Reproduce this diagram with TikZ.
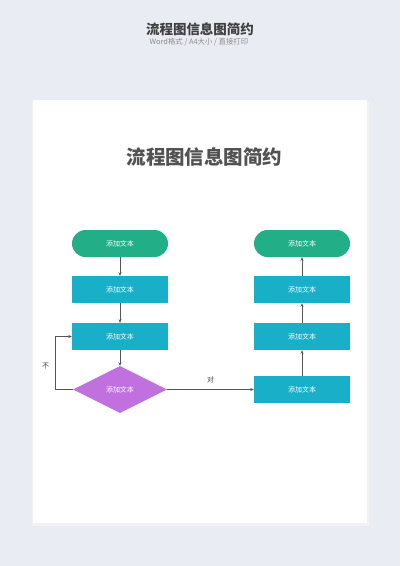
\documentclass[tikz,border=0pt]{standalone}
\usepackage{fontspec}
\setmainfont{Noto Sans CJK SC}
\usetikzlibrary{shapes.geometric,arrows.meta}
\definecolor{pagebg}{HTML}{E9ECF3}
\definecolor{termgreen}{HTML}{22AE87}
\definecolor{stepblue}{HTML}{19AFC9}
\definecolor{askpurple}{HTML}{C171DF}
\definecolor{linegray}{HTML}{555555}
\begin{document}
\begin{tikzpicture}[x=1pt, y=-1pt,
  txt/.style={text=white, font=\fontsize{7}{8}\selectfont, inner sep=0pt},
  term/.style={txt, fill=termgreen, rounded corners=13.5pt, minimum width=96pt, minimum height=27pt},
  stepbox/.style={txt, fill=stepblue, minimum width=96pt, minimum height=27pt},
  ask/.style={txt, diamond, fill=askpurple, minimum width=94pt, minimum height=47pt},
  flow/.style={draw=linegray, line width=0.6pt, -{Stealth[length=3.5pt, width=3pt]}},
  tag/.style={text=linegray!80!black, font=\fontsize{7}{8}\selectfont}]
  \useasboundingbox (0,0) rectangle (400,566);
  \fill[pagebg] (0,0) rectangle (400,566);
  % header
  \node[text=black!75, font=\fontsize{13.5}{15}\bfseries] (head) at (200,29.5) {流程图信息图简约};
  \node[text=black!45, font=\fontsize{7.4}{8}\selectfont] (sub) at (199,42.5) {Word格式 / A4大小 / 直接打印};
  % card
  \fill[black!5] (31.5,101.5) rectangle (368.5,525.5);
  \fill[white] (32.5,100) rectangle (367,523);
  \node[text=black!68, font=\fontsize{19.5}{22}\bfseries] (title) at (204.5,157) {流程图信息图简约};
  % left column
  \node[term] (start) at (120,243.5) {添加文本};
  \node[stepbox] (l2) at (120,289.5) {添加文本};
  \node[stepbox] (l3) at (120,336.5) {添加文本};
  \node[ask] (dec) at (120,389.5) {添加文本};
  % right column
  \node[stepbox] (r4) at (302,389.5) {添加文本};
  \node[stepbox] (r3) at (302,336.5) {添加文本};
  \node[stepbox] (r2) at (302,289.5) {添加文本};
  \node[term] (stop) at (302,243.5) {添加文本};
  % connectors
  \draw[flow] (start) -- (l2);
  \draw[flow] (l2) -- (l3);
  \draw[flow] (l3) -- (dec);
  \draw[flow] (dec.west) -- ++(-18,0) |- node[tag, pos=0.22, left=2pt] {不} (l3.west);
  \draw[flow] (dec.east) -- node[tag, above=3pt] {对} (r4.west);
  \draw[flow] (r4) -- (r3);
  \draw[flow] (r3) -- (r2);
  \draw[flow] (r2) -- (stop);
\end{tikzpicture}
\end{document}
